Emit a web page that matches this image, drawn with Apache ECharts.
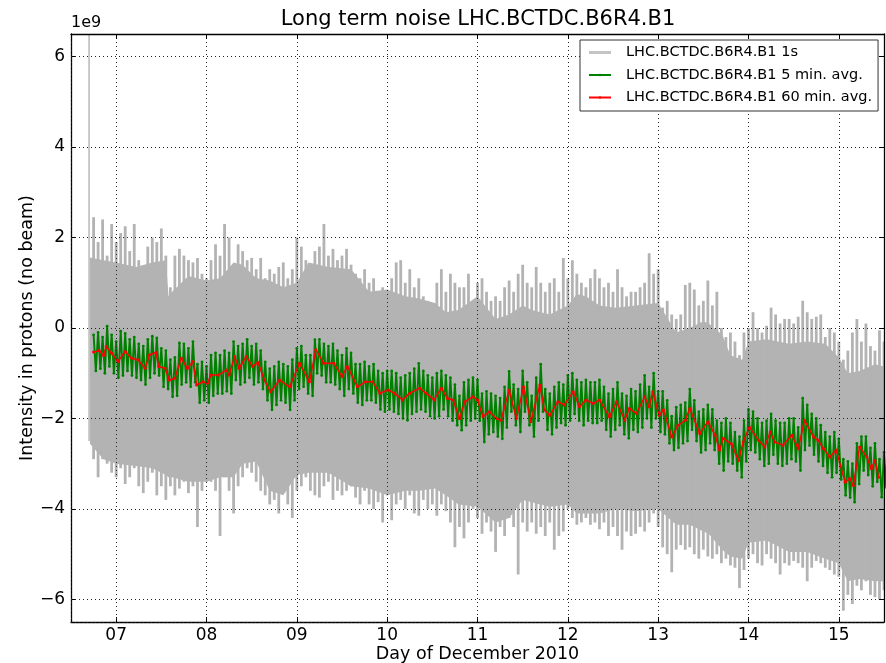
<!DOCTYPE html>
<html>
<head>
<meta charset="utf-8">
<script src="https://cdn.jsdelivr.net/npm/echarts@6/dist/echarts.min.js"></script>
<style>
  html, body { margin: 0; padding: 0; background: #fff; }
  #chart { width: 886px; height: 663px; }
</style>
</head>
<body>
<div id="chart"></div>
<script>
// values are in units of 1e9 protons, time in days of December 2010
const step = 0.05

// 1s signal: upper and lower extent of the trace in each 0.05 day slot
const grayStart = 6.70
const grayHi = [
  6.6,
  2.45, 1.9, 2.4, 1.6, 2.3, 1.9,
  2.1, 2.25, 1.7, 2.3, 1.5, 1.3, 1.8, 2.0, 1.9, 2.2, 1.6, 0.9,
  1.6, 1.75, 1.6, 1.5, 1.45, 1.55, 1.2, 1.1,
  1.5, 1.85, 1.6, 2.3, 2.0, 1.4, 1.85, 1.7, 1.5, 1.55, 1.3, 1.55, 1.1, 1.3, 1.2, 1.35, 1.45, 1.1, 1.3, 2.0,
  1.8, 1.5, 1.3, 1.7, 1.8, 2.3, 1.6, 1.75, 1.5, 1.6, 1.75, 1.4,
  1.2, 1.1, 1.3, 1.0, 1.1, 0.8, 0.9, 0.8,
  1.1, 1.45, 1.5, 1.0, 1.3, 0.9, 1.1, 0.7, 0.6, 0.5, 1.0, 1.3, 0.8, 1.2, 1.0, 0.9, 0.9, 1.2, 0.6, 1.0,
  1.1, 0.8, 0.6, 0.7, 0.6, 0.9, 1.05, 0.8, 1.2, 1.4, 1.0, 0.9, 1.35, 1.0, 0.8, 1.0, 1.1, 0.8, 1.55, 1.1,
  1.5, 1.2, 1.0, 0.9, 1.1, 1.3, 1.1, 0.9, 1.0, 0.8, 1.3, 0.9, 0.7, 0.8, 0.8, 0.9, 1.0, 1.65, 1.2, 1.3,
  0.45, 0.6, 0.3, 0.2, 0.3, 0.95, 1.0, 0.85, 0.5, 0.6, 1.05, 0.5, 0.8, 0.0, -0.2, -0.1, -0.3, -0.6, -0.1, 0.0,
  0.35, 0.0, -0.1, 0.05, 0.45, 0.3, 0.1, 0.2, 0.2, 0.1, 0.25, 0.6, 0.35, 0.2, 0.25, 0.3, -0.2, 0.0, -0.1, -0.3,
  -0.7, -0.5, -0.1, 0.2, -0.3, 0.1, -0.4, -0.5, -0.05, -0.3
]
const grayLo = [
  -2.5,
  -2.9, -3.3, -2.9, -3.0, -3.2, -3.3,
  -3.1, -3.45, -3.3, -3.1, -3.5, -3.65, -3.4, -3.2, -3.7, -3.5, -3.8, -3.5,
  -3.7, -3.55, -3.4, -3.65, -3.5, -4.4, -3.6, -3.4,
  -3.4, -3.6, -4.6, -3.3, -3.6, -4.1, -3.5, -3.3, -3.1, -3.2, -3.4, -3.6, -3.7, -3.9, -3.8, -4.1, -3.5, -3.9, -4.2, -3.6,
  -3.5, -3.3, -3.6, -3.7, -3.75, -3.5, -3.4, -3.8, -3.6, -3.7, -3.6, -3.5,
  -3.75, -3.9, -3.6, -3.9, -4.0, -3.85, -4.3, -3.7,
  -4.25, -3.9, -3.8, -4.0, -3.7, -4.1, -4.15, -3.8, -4.0, -3.9, -4.15, -3.9, -4.05, -4.3, -4.85, -4.4, -4.65, -4.3, -4.0, -4.2,
  -4.55, -4.3, -4.5, -4.95, -4.4, -4.6, -4.2, -4.4, -5.45, -4.3, -4.5, -4.3, -4.55, -4.4, -4.6, -4.3, -4.9, -4.6, -4.5, -4.0,
  -4.2, -4.35, -4.3, -4.2, -4.35, -4.3, -4.45, -4.3, -4.6, -4.4, -4.6, -4.9, -4.5, -4.6, -4.55, -4.4, -4.5, -4.3, -4.1, -4.4,
  -4.85, -5.0, -5.4, -4.9, -4.8, -4.9, -4.85, -5.0, -5.1, -4.9, -5.05, -5.1, -5.0, -5.2, -5.1, -5.25, -5.3, -5.75, -5.35, -5.1,
  -5.0, -5.2, -5.25, -5.0, -5.1, -5.2, -5.45, -5.2, -5.25, -5.15, -5.2, -5.3, -5.6, -5.3, -5.15, -5.2, -5.3, -5.35, -5.45, -5.5,
  -6.25, -5.9, -6.1, -5.7, -5.8, -5.6, -5.9, -5.95, -6.0, -5.8
]

// solid body of the 1s band
const coreDays = [
  6.71, 6.86, 7.0, 7.22, 7.4, 7.55, 7.58, 7.62, 7.8, 8.0,
  8.15, 8.3, 8.4, 8.55, 8.7, 8.85, 9.0, 9.13, 9.35, 9.6,
  9.8, 10.0, 10.2, 10.35, 10.53, 10.65, 10.79, 11.0, 11.2, 11.35,
  11.5, 11.6, 11.8, 12.0, 12.1, 12.2, 12.35, 12.53, 12.75, 13.0,
  13.2, 13.35, 13.5, 13.56, 13.71, 13.8, 13.93, 14.0, 14.2, 14.45,
  14.65, 14.85, 15.0, 15.1, 15.23, 15.4, 15.5
]
const coreHi = [
  1.56, 1.5, 1.45, 1.35, 1.45, 1.5, 0.7, 0.8, 1.15, 1.05,
  1.1, 1.45, 1.4, 1.1, 1.05, 0.9, 1.0, 1.45, 1.35, 1.3,
  0.8, 0.85, 0.7, 0.65, 0.55, 0.35, 0.4, 0.7, 0.2, 0.3,
  0.5, 0.4, 0.3, 0.5, 0.75, 0.7, 0.5, 0.45, 0.5, 0.55,
  -0.1, 0.0, 0.15, 0.1, -0.15, -0.6, -0.7, -0.3, -0.25, -0.35,
  -0.3, -0.35, -0.65, -1.0, -0.95, -0.8, -0.85
]
const coreLo = [
  -2.56, -2.9, -3.0, -3.05, -3.1, -3.25, -3.3, -3.3, -3.4, -3.4,
  -3.3, -3.3, -3.0, -2.95, -3.6, -3.7, -3.25, -3.2, -3.2, -3.5,
  -3.55, -3.7, -3.6, -3.6, -3.55, -3.7, -3.9, -3.95, -4.3, -4.2,
  -3.8, -3.85, -3.95, -3.9, -4.1, -4.1, -4.1, -4.0, -4.05, -4.0,
  -4.35, -4.35, -4.5, -4.55, -4.9, -5.05, -5.1, -4.75, -4.7, -4.95,
  -4.95, -5.1, -5.2, -5.6, -5.55, -5.6, -5.6
]

// 5 min. average: upper and lower extent in each 0.05 day slot
const greenStart = 6.75
const greenHi = [
  -0.15, -0.10, -0.20, 0.04, -0.15, -0.30,
  -0.07, -0.12, -0.25, -0.20, -0.35, -0.40, -0.25, -0.18, -0.22, -0.45, -0.50, -0.70, -0.65, -0.33, -0.35, -0.45, -0.30, -0.80, -0.75, -0.85,
  -0.60, -0.55, -0.60, -0.50, -0.55, -0.30, -0.40, -0.35, -0.25, -0.40, -0.35, -0.50, -0.75, -0.90, -0.85, -0.75, -0.80, -0.85, -0.70, -0.45,
  -0.40, -0.60, -0.60, -0.26, -0.25, -0.35, -0.40, -0.35, -0.50, -0.60, -0.45, -0.55, -0.80, -0.80, -0.75, -0.85, -0.80, -0.95, -1.00, -0.95,
  -0.95, -1.00, -1.10, -1.05, -1.00, -0.90, -0.78, -0.95, -1.05, -1.10, -1.00, -0.95, -1.05, -1.10, -1.25, -1.50, -1.20, -1.15, -1.10, -1.15,
  -1.45, -1.40, -1.45, -1.50, -1.55, -1.30, -0.96, -1.25, -1.35, -0.95, -1.20, -1.50, -1.10, -0.80, -1.35, -1.45, -1.30, -1.20, -1.25, -1.05,
  -1.00, -1.15, -1.20, -1.15, -1.20, -1.20, -1.15, -1.30, -1.45, -1.35, -1.20, -1.45, -1.50, -1.35, -1.40, -1.25, -1.05, -1.30, -1.00, -1.40,
  -1.40, -1.60, -1.95, -1.75, -1.70, -1.65, -1.35, -1.60, -1.85, -1.80, -1.70, -1.80, -2.05, -2.10, -2.00, -2.10, -2.30, -2.40, -2.05, -1.80,
  -1.85, -2.00, -2.10, -2.05, -1.90, -2.05, -2.10, -2.10, -2.00, -2.00, -2.20, -1.55, -1.70, -1.90, -2.00, -2.15, -2.30, -2.40, -2.30, -2.45,
  -2.90, -2.95, -3.00, -2.55, -2.40, -2.40, -2.65, -2.55, -2.90, -2.75
]
const greenLo = [
  -0.95, -0.90, -1.00, -0.85, -1.00, -1.10,
  -1.05, -0.95, -1.05, -1.10, -1.15, -1.25, -1.10, -1.00, -1.05, -1.30, -1.35, -1.52, -1.50, -1.25, -1.20, -1.30, -1.20, -1.65, -1.60, -1.65,
  -1.50, -1.45, -1.45, -1.40, -1.45, -1.15, -1.25, -1.20, -1.10, -1.25, -1.20, -1.35, -1.60, -1.81, -1.70, -1.60, -1.65, -1.81, -1.60, -1.35,
  -1.30, -1.45, -1.50, -1.00, -1.05, -1.20, -1.20, -1.25, -1.35, -1.50, -1.35, -1.45, -1.65, -1.70, -1.60, -1.60, -1.65, -1.80, -1.85, -1.80,
  -1.85, -1.90, -2.00, -2.04, -1.90, -1.85, -1.80, -1.85, -1.95, -2.00, -1.95, -1.80, -1.95, -2.05, -2.15, -2.26, -2.15, -2.05, -2.00, -2.05,
  -2.52, -2.35, -2.30, -2.40, -2.45, -2.20, -1.85, -2.15, -2.30, -1.85, -2.15, -2.40, -2.05, -1.85, -2.25, -2.35, -2.20, -2.10, -2.15, -2.05,
  -1.90, -2.05, -2.15, -2.05, -2.10, -2.10, -2.05, -2.25, -2.40, -2.25, -2.15, -2.35, -2.44, -2.25, -2.30, -2.20, -2.00, -2.20, -2.00, -2.30,
  -2.35, -2.55, -2.70, -2.65, -2.55, -2.50, -2.25, -2.50, -2.75, -2.70, -2.55, -2.70, -3.00, -3.15, -2.95, -3.00, -3.15, -3.30, -2.95, -2.70,
  -2.75, -2.90, -3.05, -3.00, -2.80, -3.00, -3.05, -3.00, -2.90, -2.95, -3.15, -2.70, -2.60, -2.80, -2.95, -3.05, -3.20, -3.30, -3.20, -3.35,
  -3.70, -3.75, -3.85, -3.45, -3.15, -3.25, -3.50, -3.40, -3.74, -3.55
]

// 60 min. average
const redDays = [
  6.75, 6.81, 6.86, 6.89, 6.95, 7.02, 7.10, 7.17, 7.24, 7.32, 7.37, 7.44, 7.47, 7.54, 7.59, 7.65, 7.72, 7.79, 7.85, 7.89, 7.96,
  8.01, 8.05, 8.13, 8.22, 8.25, 8.31, 8.36, 8.44, 8.51, 8.57, 8.64, 8.71, 8.81, 8.92,
  9.03, 9.14, 9.21, 9.30, 9.41, 9.50, 9.56, 9.67, 9.76, 9.84, 9.92,
  10.01, 10.08, 10.17, 10.25, 10.36, 10.43, 10.52, 10.60, 10.67, 10.73, 10.80, 10.86, 10.95,
  11.00, 11.06, 11.13, 11.21, 11.26, 11.35, 11.43, 11.51, 11.59, 11.69, 11.74, 11.80, 11.89, 11.96,
  12.06, 12.13, 12.20, 12.28, 12.35, 12.46, 12.54, 12.63, 12.68, 12.76, 12.85, 12.90, 12.94,
  13.01, 13.06, 13.15, 13.22, 13.30, 13.35, 13.46, 13.55, 13.63, 13.68, 13.72, 13.81, 13.89, 13.94,
  14.01, 14.11, 14.18, 14.24, 14.29, 14.38, 14.48, 14.55, 14.62, 14.72, 14.77, 14.83, 14.90, 14.97,
  15.07, 15.12, 15.16, 15.23, 15.31, 15.36, 15.40, 15.44
]
const redVals = [
  -0.53, -0.50, -0.61, -0.41, -0.56, -0.74, -0.52, -0.67, -0.70, -0.89, -0.59, -0.54, -0.85, -0.89, -1.15, -1.11, -0.67, -0.89, -0.74, -1.26, -1.19,
  -1.22, -1.04, -1.04, -0.93, -1.04, -0.63, -0.89, -0.63, -0.85, -0.76, -1.15, -1.41, -1.15, -1.30,
  -0.78, -1.19, -0.48, -0.78, -0.78, -1.07, -0.85, -1.30, -1.19, -1.19, -1.44,
  -1.37, -1.44, -1.59, -1.44, -1.33, -1.44, -1.59, -1.33, -1.56, -1.59, -2.00, -1.63, -1.52,
  -1.59, -1.96, -1.85, -2.00, -2.04, -1.37, -2.00, -1.30, -2.07, -1.26, -1.81, -1.93, -1.63, -1.70,
  -1.41, -1.74, -1.59, -1.67, -1.59, -1.96, -1.63, -2.04, -1.78, -1.89, -1.52, -1.74, -1.41,
  -1.93, -1.81, -2.41, -2.15, -2.04, -1.78, -2.33, -2.07, -2.37, -2.70, -2.44, -2.56, -2.93, -2.52,
  -2.19, -2.48, -2.63, -2.30, -2.52, -2.59, -2.37, -2.67, -2.04, -2.41, -2.48, -2.67, -2.85, -2.70,
  -3.41, -3.33, -3.48, -2.63, -2.85, -3.11, -2.93, -3.30
]

const seriesNames = ['LHC.BCTDC.B6R4.B1 1s', 'LHC.BCTDC.B6R4.B1 5 min. avg.', 'LHC.BCTDC.B6R4.B1 60 min. avg.']

const font = 'DejaVu Sans'
const gray = '#b3b3b3'
const green = '#008000'
const red = '#ff0000'

// trace that swings between the upper and lower extent of every slot
const zigzag = (start, hi, lo) => {
  const pts = []
  hi.forEach((v, i) => {
    const t = start + i * step
    pts.push([t, v])
    if (lo[i] !== undefined) pts.push([t + step / 2, lo[i]])
  })
  return pts
}

const dayLabel = v => (v < 10 ? '0' : '') + v
const valueLabel = v => (v < 0 ? '\u2212' + (-v) : String(v))

// filled body of the 1s band, drawn through the axis scales
const renderCore = (params, api) => {
  const upper = coreDays.map((d, i) => api.coord([d, coreHi[i]]))
  const lower = coreDays.map((d, i) => api.coord([d, coreLo[i]])).reverse()
  return { type: 'polygon', shape: { points: upper.concat(lower) }, style: { fill: gray } }
}

// one vertical stroke per slot, from its lowest to its highest sample
const renderSpike = (params, api) => {
  const top = api.coord([api.value(0), api.value(1)])
  const bottom = api.coord([api.value(0), api.value(2)])
  const width = params.dataIndex === 0 ? 1.4 : 2.8
  return {
    type: 'line',
    shape: { x1: top[0], y1: top[1], x2: bottom[0], y2: bottom[1] },
    style: { stroke: gray, lineWidth: width }
  }
}

const chart = echarts.init(document.getElementById('chart'), null, { renderer: 'canvas' })

const gridLine = { show: true, lineStyle: { color: '#222', type: [1, 3], width: 1 } }
const frame = { show: true, onZero: false, lineStyle: { color: '#000', width: 1.3 } }
const tick = { show: true, inside: true, length: 5, lineStyle: { color: '#000', width: 1 } }

const option = {
  animation: false,
  backgroundColor: '#fff',
  grid: { left: 71, right: 2, top: 34, bottom: 41, containLabel: false, outerBoundsMode: 'none' },
  graphic: [
    {
      type: 'text',
      style: { x: 478, y: 20, text: 'Long term noise LHC.BCTDC.B6R4.B1', font: '21px "DejaVu Sans"',
        fill: '#000', align: 'center', verticalAlign: 'middle', textAlign: 'center', textVerticalAlign: 'middle' }
    },
    {
      type: 'text',
      style: { x: 71, y: 23, text: '1e9', font: '16px "DejaVu Sans"', fill: '#000',
        align: 'left', verticalAlign: 'middle', textAlign: 'left', textVerticalAlign: 'middle' }
    }
  ],
  legend: {
    orient: 'vertical',
    left: 580,
    top: 40,
    z: 20,
    padding: [4, 6, 5, 8],
    itemGap: 5.5,
    itemWidth: 22,
    itemHeight: 3,
    borderColor: '#333',
    borderWidth: 1,
    borderRadius: 0,
    backgroundColor: '#fff',
    textStyle: { fontFamily: font, fontSize: 14.5, lineHeight: 17, color: '#000', padding: [0, 0, 0, 10] },
    data: [
      { name: seriesNames[0], icon: 'rect', itemStyle: { color: '#c4c4c4' } },
      { name: seriesNames[1] },
      { name: seriesNames[2] }
    ]
  },
  xAxis: [
    {
      type: 'value', min: 6.5, max: 15.5, minInterval: 1, maxInterval: 1,
      name: 'Day of December 2010', nameLocation: 'middle', nameGap: 23, nameMoveOverlap: false,
      nameTextStyle: { fontFamily: font, fontSize: 17.5, color: '#000' },
      axisLine: frame, axisTick: tick,
      axisLabel: { formatter: dayLabel, fontFamily: font, fontSize: 17, color: '#000', margin: 5,
        showMinLabel: false, showMaxLabel: false },
      splitLine: { show: false }
    },
    {
      type: 'value', position: 'top', min: 6.5, max: 15.5, minInterval: 1, maxInterval: 1, z: 10,
      axisLine: frame, axisTick: tick, axisLabel: { show: false }, splitLine: gridLine
    }
  ],
  yAxis: [
    {
      type: 'value', min: -6.5, max: 6.5, minInterval: 2, maxInterval: 2,
      name: 'Intensity in protons (no beam)', nameLocation: 'middle', nameGap: 35, nameMoveOverlap: false,
      nameTextStyle: { fontFamily: font, fontSize: 17.5, color: '#000' },
      axisLine: frame, axisTick: tick,
      axisLabel: { formatter: valueLabel, fontFamily: font, fontSize: 17, color: '#000', margin: 6,
        showMinLabel: false, showMaxLabel: false },
      splitLine: { show: false }
    },
    {
      type: 'value', position: 'right', min: -6.5, max: 6.5, minInterval: 2, maxInterval: 2, z: 10,
      axisLine: frame, axisTick: tick, axisLabel: { show: false }, splitLine: gridLine
    }
  ],
  series: [
    {
      name: 'core', type: 'custom', silent: true, clip: true, z: 1,
      renderItem: renderCore,
      data: [[coreDays[0], coreHi[0]]]
    },
    {
      name: seriesNames[0], type: 'custom', clip: true, z: 2,
      color: gray,
      itemStyle: { color: gray },
      renderItem: renderSpike,
      encode: { x: 0, y: [1, 2] },
      data: grayHi.map((v, i) => [grayStart + i * step, v, grayLo[i]])
    },
    {
      name: seriesNames[1], type: 'line', symbol: 'circle', symbolSize: 2.8, showAllSymbol: true, z: 3,
      color: green,
      itemStyle: { color: green },
      lineStyle: { color: green, width: 1.9 },
      data: zigzag(greenStart, greenHi, greenLo)
    },
    {
      name: seriesNames[2], type: 'line', symbol: 'circle', symbolSize: 3, showAllSymbol: true, z: 4,
      color: red,
      itemStyle: { color: red },
      lineStyle: { color: red, width: 1.5 },
      data: redDays.map((d, i) => [d, redVals[i]])
    }
  ]
}

chart.setOption(option)
</script>
</body>
</html>
